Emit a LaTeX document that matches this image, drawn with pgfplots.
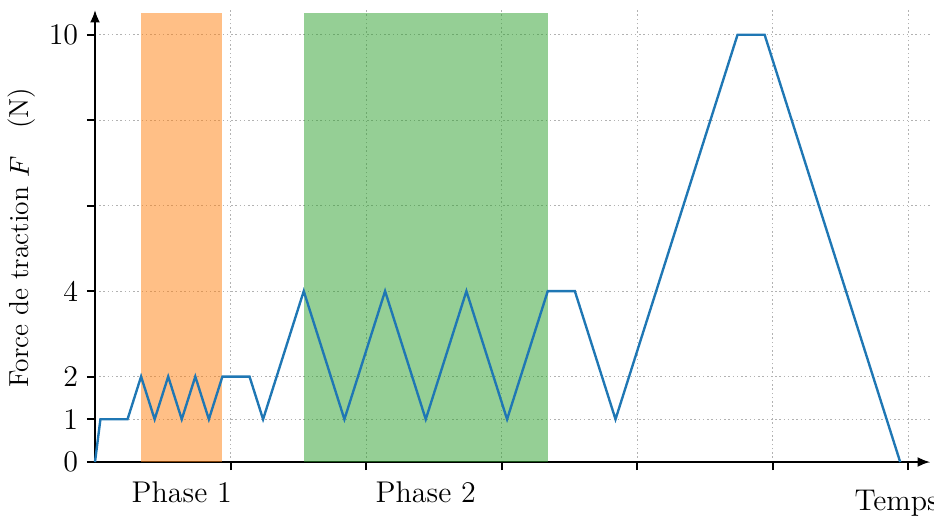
\documentclass[border=0pt]{standalone}
\usepackage{pgfplots}
\pgfplotsset{compat=1.18}
\usetikzlibrary{arrows.meta}
\definecolor{tabblue}{RGB}{31,119,180}
\definecolor{taborange}{RGB}{255,127,14}
\definecolor{tabgreen}{RGB}{44,160,44}
\begin{document}
\begin{tikzpicture}
\begin{axis}[
  scale only axis,
  width=334pt, height=180.8pt,
  xmin=0, xmax=30.8, ymin=0, ymax=10.58,
  axis x line=bottom, axis y line=left,
  axis line style={line width=0.8pt, -{Latex[length=5pt,width=4pt]}},
  xtick={5,10,15,20,25,30}, xticklabels={},
  ytick={0,1,2,4,6,8,10}, yticklabels={0,1,2,4,,,10},
  tick align=outside,
  major tick length=3.2pt,
  tick style={line width=0.8pt, black},
  grid=major,
  grid style={dash pattern=on 0.6pt off 1.1pt, line width=0.4pt, gray!60},
  ticklabel style={font=\fontsize{12}{14}\selectfont},
  /pgf/number format/assume math mode=true,
  clip=false,
]
\addplot[draw=none, fill=taborange, fill opacity=0.5] coordinates {(1.7,0) (4.7,0) (4.7,10.5) (1.7,10.5)} -- cycle;
\addplot[draw=none, fill=tabgreen, fill opacity=0.5] coordinates {(7.7,0) (16.7,0) (16.7,10.5) (7.7,10.5)} -- cycle;
\addplot[tabblue, line width=0.95pt, line join=miter] coordinates {
(0,0) (0.2,1) (1.2,1) (1.7,2) (2.2,1) (2.7,2) (3.2,1) (3.7,2) (4.2,1) (4.7,2)
(5.7,2) (6.2,1) (7.7,4) (9.2,1) (10.7,4) (12.2,1) (13.7,4) (15.2,1) (16.7,4)
(17.7,4) (19.2,1) (23.7,10) (24.7,10) (29.7,0)};
\node[font=\fontsize{12}{14}\selectfont] at ([yshift=-12pt]axis cs:3.2,0) {Phase 1};
\node[font=\fontsize{12}{14}\selectfont] at ([yshift=-12pt]axis cs:12.2,0) {Phase 2};
\node[font=\fontsize{12}{14}\selectfont, anchor=west, inner sep=0pt] at ([yshift=-16.4pt]axis cs:28.0,0) {Temps};
\node[font=\fontsize{11}{13}\selectfont, rotate=90] at ([xshift=-29.2pt]axis cs:0,5.25) {Force de traction $F$\quad(N)};
\end{axis}
\pgfresetboundingbox
\useasboundingbox (-38pt,-22pt) rectangle (335.6pt,184.8pt);
\end{tikzpicture}
\end{document}
